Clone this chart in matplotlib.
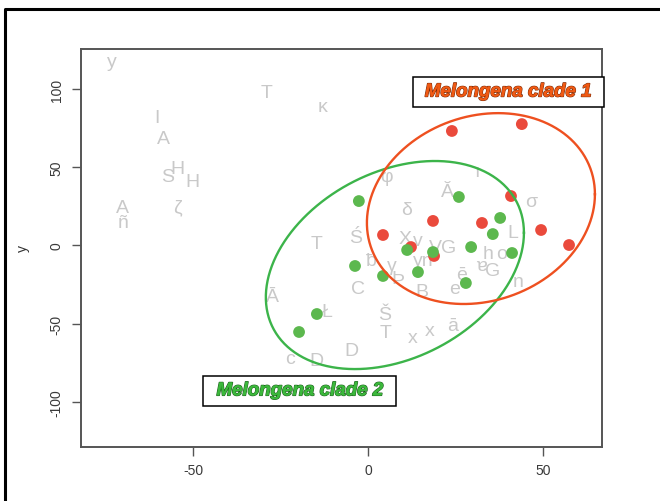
import numpy as np
import matplotlib
matplotlib.use("Agg")
import matplotlib.pyplot as plt
from matplotlib.patches import Rectangle
from matplotlib.lines import Line2D
import matplotlib.patheffects as pe

plt.rcParams['font.family'] = ['Liberation Sans', 'DejaVu Sans']

# Melongena clade 1 (red) specimen scores
clade1_x = [24.0, 44.0, 40.9, 18.6, 32.6, 49.5, 57.5, 4.3, 12.3, 18.9]
clade1_y = [73.2, 77.6, 31.6, 15.7, 14.4, 9.9, 0.3, 6.7, -1.0, -6.7]

# Melongena clade 2 (green) specimen scores
clade2_x = [-2.6, 26.0, 37.8, 35.7, 29.5, 41.2, 11.2, 18.6, 14.3, 28.0,
            -3.7, 4.3, -14.6, -19.7]
clade2_y = [28.4, 31.0, 17.6, 7.3, -1.0, -4.8, -2.9, -4.2, -17.0, -24.0,
            -13.1, -19.5, -43.8, -55.3]

# Ellipses: centre, half-extent in x and y, correlation
ell1 = dict(cx=32.3, cy=23.6, hx=32.6, hy=61.0, rho=0.15)
ell2 = dict(cx=7.7, cy=-12.5, hx=36.9, hy=66.5, rho=0.31)

# Background specimen labels
lab_text = ["y", "T", "κ", "I", "A", "S", "H", "H", "ζ", "A", "ñ",
            "T", "Ś", "φ", "δ", "X", "v", "ƀ", "γ", "C", "Þ", "B",
            "VG", "yn", "ē", "e", "h", "o", "ɐ", "G", "L", "σ", "Ă", "ı",
            "n", "Ā", "Ł", "Š", "T", "x", "x", "ā", "D", "D", "c"]
lab_x = [-73.2, -28.9, -12.9, -60.3, -58.6, -57.2, -54.6, -50.3, -54.6, -70.1, -70.1,
         -14.6, -3.4, 5.4, 10.9, 10.6, 14.3, 1.1, 6.9, -2.9, 8.6, 15.4,
         21.4, 15.7, 26.9, 24.9, 34.3, 38.3, 32.6, 35.7, 41.5, 46.6, 22.6, 31.2,
         42.9, -27.2, -11.7, 4.9, 4.9, 12.9, 17.7, 24.3, -4.6, -14.6, -22.3]
lab_y = [117.3, 98.1, 89.1, 82.1, 68.7, 43.8, 48.9, 41.2, 24.6, 24.0, 14.4,
         1.0, 5.4, 43.8, 23.3, 4.2, 2.9, -9.9, -12.5, -27.8, -21.4, -29.1,
         -1.0, -9.9, -18.8, -27.8, -5.4, -5.4, -12.5, -16.3, 8.6, 27.8, 34.8, 47.6,
         -22.7, -32.9, -42.5, -43.8, -55.3, -58.5, -54.6, -51.4, -67.4, -73.8, -72.5]

x_ticks = [-50, 0, 50]
y_ticks = [-100, -50, 0, 50, 100]

fig = plt.figure(figsize=(6.6, 5.02), dpi=100)
ax = fig.add_axes([0.123, 0.1076, 0.789, 0.7928])
ax.set_xlim(-82.0, 66.9)
ax.set_ylim(-128.8, 125.6)

for t, x, y in zip(lab_text, lab_x, lab_y):
    ax.text(x, y, t, color='#c9c9c9', fontsize=14, ha='center', va='center', zorder=1)

ax.scatter(clade1_x, clade1_y, s=72, color='#ea4a3c', edgecolors='none', zorder=3)
ax.scatter(clade2_x, clade2_y, s=72, color='#5cb84e', edgecolors='none', zorder=3)

t = np.linspace(0, 2 * np.pi, 400)
for e, col in [(ell2, '#3cb44a'), (ell1, '#ee5020')]:
    ex = e['cx'] + e['hx'] * np.cos(t)
    ey = e['cy'] + e['hy'] * (e['rho'] * np.cos(t) + np.sqrt(1 - e['rho'] ** 2) * np.sin(t))
    ax.plot(ex, ey, color=col, lw=1.7, zorder=4)

ax.set_xticks(x_ticks)
ax.set_yticks(y_ticks)
ax.set_xticklabels([str(v) for v in x_ticks])
ax.set_yticklabels([str(v) for v in y_ticks], rotation=90, va='center')
ax.tick_params(axis='both', length=6.5, width=1.0, color='#555555',
               labelcolor='#3a3a3a', labelsize=10)
ax.tick_params(axis='x', pad=5)
ax.tick_params(axis='y', pad=6)
for sp in ax.spines.values():
    sp.set_color('#555555')
    sp.set_linewidth(1.4)
ax.set_ylabel('y', fontsize=10, color='#333333', labelpad=14)

# Group labels in framed boxes
boxes = [
    ((0.637, 0.854), 0.367, 0.076, (0.82, 0.892), 'Melongena clade 1', '#f05a14', '#7a2a08'),
    ((0.234, 0.103), 0.370, 0.075, (0.42, 0.141), 'Melongena clade 2', '#3cb83c', '#1d5e1d'),
]
for (bx, by), bw, bh, (tx, ty), txt, fc, ec in boxes:
    ax.add_patch(Rectangle((bx, by), bw, bh, transform=ax.transAxes, facecolor='white',
                           edgecolor='black', lw=1.1, zorder=6, clip_on=False))
    ax.text(tx, ty, txt, transform=ax.transAxes, ha='center', va='center', fontsize=13.5,
            fontweight='bold', fontstyle='italic', color=fc, zorder=7,
            path_effects=[pe.withStroke(linewidth=1.0, foreground=ec), pe.Normal()])

# Outer frame
fig.add_artist(Line2D([5 / 660, 5 / 660, 1.0], [0.0, 1 - 9.5 / 502, 1 - 9.5 / 502],
                      transform=fig.transFigure, color='black', lw=2.2))

fig.savefig('out.png', dpi=100)
